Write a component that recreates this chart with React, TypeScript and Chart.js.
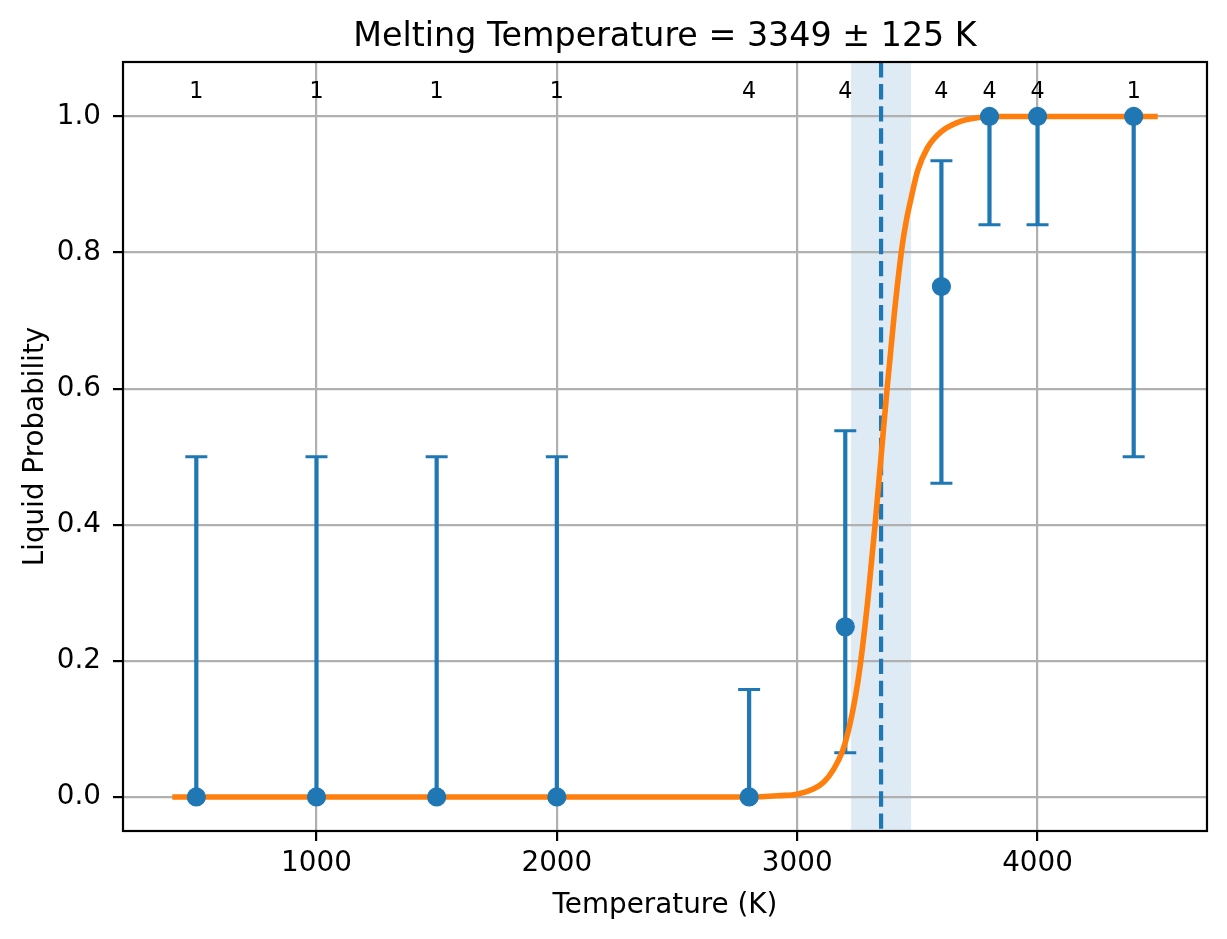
import { useEffect, useRef } from "react"
import { Chart, registerables, type Plugin } from "chart.js"

Chart.register(...registerables)

// measured runs
const temperatures = [500, 1000, 1500, 2000, 2800, 3200, 3600, 3800, 4000, 4400]
const liquidProb = [0, 0, 0, 0, 0, 0.25, 0.75, 1, 1, 1]
const errLower = [0, 0, 0, 0, 0, 0.065, 0.461, 0.841, 0.841, 0.5]
const errUpper = [0.5, 0.5, 0.5, 0.5, 0.158, 0.538, 0.935, 1, 1, 1]
const runCounts = [1, 1, 1, 1, 4, 4, 4, 4, 4, 1]

// fitted curve
const fitTemps = [400, 2800, 2930, 3000, 3069, 3111, 3152, 3187, 3215, 3243, 3261, 3294, 3324, 3349, 3374, 3404, 3437, 3453, 3474, 3501, 3542, 3597, 3666, 3749, 3850, 4500]
const fitProbs = [0, 0, 0.002, 0.004, 0.012, 0.022, 0.041, 0.066, 0.1, 0.149, 0.19, 0.29, 0.4, 0.5, 0.6, 0.71, 0.81, 0.845, 0.88, 0.92, 0.954, 0.977, 0.991, 0.998, 1, 1]

const meltTemp = 3349
const meltErr = 125

const xTickValues = [1000, 2000, 3000, 4000]
const yTickValues = [0, 0.2, 0.4, 0.6, 0.8, 1.0]

const BLUE = "#1f77b4"
const ORANGE = "#ff7f0e"
const FONT = "'DejaVu Sans', sans-serif"

const overlay: Plugin<"line"> = {
  id: "overlay",
  beforeDraw(chart) {
    const { ctx, chartArea: a, scales } = chart
    const x = scales.x
    const l = x.getPixelForValue(meltTemp - meltErr)
    const r = x.getPixelForValue(meltTemp + meltErr)
    ctx.save()
    ctx.fillStyle = "rgba(31,119,180,0.15)"
    ctx.fillRect(l, a.top, r - l, a.bottom - a.top)
    ctx.restore()
  },
  beforeDatasetsDraw(chart) {
    const { ctx, chartArea: a, scales } = chart
    const x = scales.x
    const y = scales.y
    ctx.save()
    ctx.strokeStyle = BLUE
    temperatures.forEach((t, i) => {
      const px = x.getPixelForValue(t)
      const lo = y.getPixelForValue(errLower[i])
      const hi = y.getPixelForValue(errUpper[i])
      ctx.lineWidth = 4.2
      ctx.beginPath()
      ctx.moveTo(px, lo)
      ctx.lineTo(px, hi)
      ctx.stroke()
      ctx.lineWidth = 3
      ctx.beginPath()
      ctx.moveTo(px - 11, lo)
      ctx.lineTo(px + 11, lo)
      ctx.moveTo(px - 11, hi)
      ctx.lineTo(px + 11, hi)
      ctx.stroke()
    })
    // melting temperature marker
    const mx = x.getPixelForValue(meltTemp)
    ctx.lineWidth = 4.2
    ctx.setLineDash([15.4, 6.7])
    ctx.beginPath()
    ctx.moveTo(mx, a.top)
    ctx.lineTo(mx, a.bottom)
    ctx.stroke()
    ctx.restore()
  },
  afterDatasetsDraw(chart) {
    const { ctx, chartArea: a, scales } = chart
    const x = scales.x
    const y = scales.y
    ctx.save()
    ctx.fillStyle = "#000"
    ctx.font = `22.2px ${FONT}`
    ctx.textAlign = "center"
    ctx.textBaseline = "middle"
    temperatures.forEach((t, i) => {
      ctx.fillText(String(runCounts[i]), x.getPixelForValue(t), y.getPixelForValue(1.036))
    })
    ctx.strokeStyle = "#000"
    ctx.lineWidth = 2.2
    ctx.strokeRect(a.left, a.top, a.right - a.left, a.bottom - a.top)
    ctx.restore()
  },
  afterDraw(chart) {
    const { ctx, chartArea: a } = chart
    const cx = (a.left + a.right) / 2
    const cy = (a.top + a.bottom) / 2
    ctx.save()
    ctx.fillStyle = "#000"
    ctx.textAlign = "center"
    ctx.textBaseline = "alphabetic"
    ctx.font = `33.3px ${FONT}`
    ctx.fillText(`Melting Temperature = ${meltTemp} ± ${meltErr} K`, cx, 46)
    ctx.font = `27.8px ${FONT}`
    ctx.fillText("Temperature (K)", cx, 913)
    ctx.translate(43, cy)
    ctx.rotate(-Math.PI / 2)
    ctx.fillText("Liquid Probability", 0, 0)
    ctx.restore()
  },
}

export default function App() {
  const canvasRef = useRef<HTMLCanvasElement>(null)

  useEffect(() => {
    document.body.style.margin = "0"
    if (!canvasRef.current) return

    const chart = new Chart(canvasRef.current, {
      type: "line",
      data: {
        datasets: [
          {
            label: "runs",
            data: temperatures.map((t, i) => ({ x: t, y: liquidProb[i] })),
            showLine: false,
            pointRadius: 9,
            pointBorderWidth: 1.2,
            pointBackgroundColor: BLUE,
            pointBorderColor: BLUE,
            order: 0,
          },
          {
            label: "fit",
            data: fitTemps.map((t, i) => ({ x: t, y: fitProbs[i] })),
            borderColor: ORANGE,
            borderWidth: 5.6,
            pointRadius: 0,
            cubicInterpolationMode: "monotone",
            order: 1,
          },
        ],
      },
      options: {
        animation: false,
        responsive: true,
        maintainAspectRatio: false,
        layout: { padding: { top: 62, right: 20, left: 0, bottom: 0 } },
        plugins: {
          legend: { display: false },
          title: { display: false },
          tooltip: { enabled: false },
        },
        scales: {
          x: {
            type: "linear",
            min: 195,
            max: 4705,
            afterBuildTicks: (s) => {
              s.ticks = xTickValues.map((v) => ({ value: v }))
            },
            afterFit: (s) => {
              s.height = 108
            },
            border: { display: false },
            grid: { color: "#b0b0b0", lineWidth: 2.2, tickColor: "#000", tickWidth: 2.2, tickLength: 10 },
            ticks: {
              color: "#000",
              padding: 6,
              maxRotation: 0,
              font: { family: FONT, size: 27.8 },
              callback: (v) => String(v),
            },
          },
          y: {
            type: "linear",
            min: -0.05,
            max: 1.08,
            afterBuildTicks: (s) => {
              s.ticks = yTickValues.map((v) => ({ value: v }))
            },
            afterFit: (s) => {
              s.width = 123
            },
            border: { display: false },
            grid: { color: "#b0b0b0", lineWidth: 2.2, tickColor: "#000", tickWidth: 2.2, tickLength: 10 },
            ticks: {
              color: "#000",
              padding: 12,
              font: { family: FONT, size: 27.8 },
              callback: (v) => Number(v).toFixed(1),
            },
          },
        },
      },
      plugins: [overlay],
    })

    return () => chart.destroy()
  }, [])

  return (
    <div style={{ width: 1227, height: 939, position: "relative", background: "#fff" }}>
      <canvas ref={canvasRef}></canvas>
    </div>
  )
}
